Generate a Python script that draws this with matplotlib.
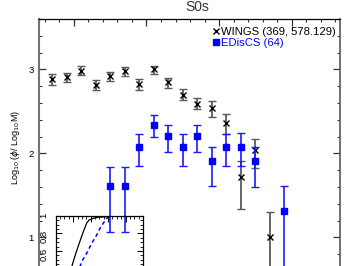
import matplotlib
matplotlib.use("Agg")
import matplotlib.pyplot as plt
from matplotlib.lines import Line2D
from matplotlib.ticker import MultipleLocator, FormatStrFormatter
import numpy as np

plt.rcParams['font.family'] = ['Liberation Sans', 'DejaVu Sans']

# WINGS S0 mass function (log10 phi) with upper / lower error limits
wings_x = [9.85, 9.95, 10.05, 10.15, 10.25, 10.35, 10.45, 10.55,
           10.65, 10.75, 10.85, 10.95, 11.05, 11.15, 11.25, 11.35]
wings_y = [2.89, 2.91, 2.98, 2.82, 2.92, 2.98, 2.83, 3.00,
           2.85, 2.70, 2.59, 2.54, 2.36, 1.72, 2.04, 1.00]
wings_hi = [2.95, 2.96, 3.04, 2.87, 2.97, 3.03, 2.88, 3.04,
            2.90, 2.77, 2.66, 2.62, 2.47, 1.91, 2.17, 1.30]
wings_lo = [2.82, 2.85, 2.93, 2.75, 2.86, 2.92, 2.76, 2.94,
            2.78, 2.64, 2.53, 2.43, 2.23, 1.34, 1.83, 0.30]

# EDisCS
edis_x = [10.25, 10.35, 10.45, 10.55, 10.65, 10.75, 10.85, 10.95,
          11.05, 11.15, 11.25, 11.45]
edis_y = [1.61, 1.61, 2.08, 2.34, 2.21, 2.08, 2.21, 1.91, 2.08, 2.08, 1.91, 1.31]
edis_hi = [1.84, 1.84, 2.23, 2.46, 2.34, 2.23, 2.34, 2.08, 2.23, 2.24, 2.08, 1.61]
edis_lo = [1.07, 1.07, 1.85, 2.19, 2.02, 1.85, 2.02, 1.61, 1.85, 1.85, 1.60, 0.30]

# inset: cumulative distributions
cum_wings_x = [0.17, 0.195, 0.233, 0.27, 0.309, 0.355, 0.385, 0.431, 0.485, 0.584, 0.65, 1.0]
cum_wings_y = [0.36, 0.46, 0.58, 0.69, 0.80, 0.92, 0.955, 0.975, 0.985, 0.993, 1.0, 1.0]
cum_edis_x = [0.27, 0.298, 0.355, 0.412, 0.47, 0.507, 0.545, 0.584, 0.622, 0.66, 1.0]
cum_edis_y = [0.40, 0.478, 0.574, 0.688, 0.783, 0.859, 0.917, 0.974, 0.992, 1.0, 1.0]

W, H = 359, 266
fig = plt.figure(figsize=(W / 100, H / 100), dpi=100)

# main panel runs a little past the bottom edge (the picture is a crop)
ax = fig.add_axes([39 / W, (H - 275.2) / H, 301 / W, 256.2 / H])
ax.set_xlim(9.759, 11.834)
ax.set_ylim(0.55, 3.6)

wy = np.array(wings_y)
eb = ax.errorbar(wings_x, wings_y,
                 yerr=[wy - np.array(wings_lo), np.array(wings_hi) - wy],
                 fmt='x', color='k', ms=4, mew=1.0, ecolor='0.35',
                 elinewidth=1.3, capsize=3, capthick=1.0, zorder=3)
for c in eb[1]:
    c.set_color('k')

ey = np.array(edis_y)
ax.errorbar(edis_x, edis_y,
            yerr=[ey - np.array(edis_lo), np.array(edis_hi) - ey],
            fmt='s', color='#0000ff', ms=4, ecolor='#1a1aff',
            elinewidth=1.2, capsize=3, capthick=1.0, zorder=4)

ax.xaxis.set_major_locator(MultipleLocator(0.5))
ax.xaxis.set_minor_locator(MultipleLocator(0.1))
ax.yaxis.set_major_locator(MultipleLocator(1))
ax.yaxis.set_minor_locator(MultipleLocator(0.2))
ax.yaxis.set_major_formatter(FormatStrFormatter('%d'))
ax.tick_params(which='both', direction='in', top=True, right=True,
               labelbottom=False, labelsize=6.8, pad=4, color='0.2')
ax.tick_params(which='major', length=5, width=0.9)
ax.tick_params(which='minor', length=2.5, width=0.8)

ax.spines['left'].set_color('0.45')
ax.spines['left'].set_linewidth(1.5)
ax.spines['right'].set_color('0.35')
ax.spines['right'].set_linewidth(1.2)
ax.spines['top'].set_linewidth(0.9)

ax.set_ylabel(r'Log$_{10}$ ($\phi$/ Log$_{10}$M)', fontsize=6.5)
ax.yaxis.set_label_coords(-0.057, 0.5)

handles = [Line2D([], [], ls='none', marker='x', color='k', ms=4, mew=1.0),
           Line2D([], [], ls='none', marker='s', color='#0000ff', ms=4)]
ax.legend(handles, ['WINGS (369, 578.129)', 'EDisCS (64)'],
          loc='upper left', bbox_to_anchor=(0.578, 0.97), frameon=False,
          fontsize=8.1, handlelength=0.5, handletextpad=0.25,
          borderpad=0, borderaxespad=0, labelspacing=0.12,
          labelcolor=['k', '#0000ff'])

fig.text(197 / W, 1 - 7 / H, 'S0s', ha='center', va='center',
         fontsize=10, color='0.2')

# inset
ins = fig.add_axes([55.7 / W, (H - 274.6) / H, 87.3 / W, 58.6 / H])
ins.patch.set_alpha(0)
ins.plot(cum_wings_x, cum_wings_y, color='k', lw=0.9)
ins.plot(cum_edis_x, cum_edis_y, color='#0000ff', lw=1.1, ls=(0, (2.5, 2)))
ins.set_xlim(0, 1)
ins.set_ylim(0.33, 1.0)
ins.xaxis.set_major_locator(MultipleLocator(0.2))
ins.xaxis.set_minor_locator(MultipleLocator(0.05))
ins.yaxis.set_major_locator(MultipleLocator(0.2))
ins.yaxis.set_minor_locator(MultipleLocator(0.05))
ins.yaxis.set_major_formatter(FormatStrFormatter('%g'))
ins.tick_params(which='both', direction='in', top=True, right=True,
                labelbottom=False, labelsize=6.8, pad=5)
ins.tick_params(axis='y', labelrotation=90)
ins.tick_params(which='major', length=4, width=0.7)
ins.tick_params(which='minor', length=2, width=0.6)
for s in ins.spines.values():
    s.set_linewidth(0.9)

fig.savefig('out.png', dpi=100)
